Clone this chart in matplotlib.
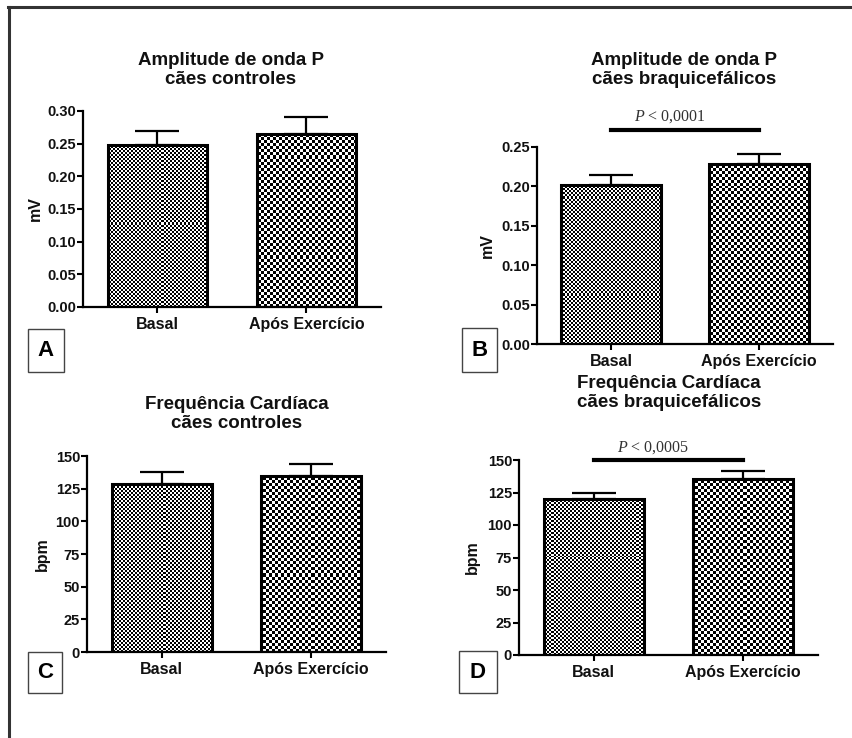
import numpy as np
import matplotlib
matplotlib.use("Agg")
import matplotlib.pyplot as plt
from matplotlib.patches import Rectangle
from matplotlib.lines import Line2D

# ==========================
# DATA
# ==========================

groups = ["Basal", "Após Exercício"]

amp_ctrl_mean = [0.248, 0.265]
amp_ctrl_sem = [0.021, 0.026]

amp_braq_mean = [0.202, 0.228]
amp_braq_sem = [0.012, 0.013]

fc_ctrl_mean = [128.5, 134.5]
fc_ctrl_sem = [9.0, 9.0]

fc_braq_mean = [120.0, 135.5]
fc_braq_sem = [4.5, 6.0]

amp_ticks = [0.00, 0.05, 0.10, 0.15, 0.20, 0.25, 0.30]
fc_ticks = [0, 25, 50, 75, 100, 125, 150]

# ==========================
# STYLE
# ==========================

W, H = 853, 738
plt.rcParams["font.family"] = ["Liberation Sans", "DejaVu Sans"]
plt.rcParams["mathtext.fontset"] = "custom"
plt.rcParams["mathtext.it"] = "Liberation Serif:italic"
plt.rcParams["mathtext.rm"] = "Liberation Serif"

fig = plt.figure(figsize=(W / 100, H / 100), dpi=100)


def px_axes(x0, y0, x1, y1):
    # pixel box (top-left origin) -> figure axes
    return fig.add_axes([x0 / W, 1 - y1 / H, (x1 - x0) / W, (y1 - y0) / H])


def checker_fill(ax, bar, cell):
    w = int(round(ax.bbox.width / cell))
    h = int(round(ax.bbox.height / cell))
    arr = np.indices((h, w)).sum(axis=0) % 2
    im = ax.imshow(arr, cmap="gray", vmin=0, vmax=1, extent=[0, 1, 0, 1],
                   transform=ax.transAxes, interpolation="nearest",
                   aspect="auto", zorder=2)
    im.set_clip_path(bar)


def panel(box, means, sems, ticks, ylabel, ylabel_x):
    ax = px_axes(*box)
    x = np.arange(len(groups))
    bars = ax.bar(x, means, width=0.67, facecolor="none", edgecolor="black",
                  linewidth=2.2, zorder=3)
    for b, cell in zip(bars, [2, 3]):
        checker_fill(ax, b, cell)
    ax.errorbar(x, means, yerr=[np.zeros(len(sems)), sems], fmt="none",
                ecolor="black", elinewidth=1.6, capsize=16, capthick=1.6,
                zorder=4)
    ax.set_xlim(-0.5, 1.5)
    ax.set_ylim(ticks[0], ticks[-1])
    ax.set_yticks(ticks)
    if isinstance(ticks[1], float):
        ax.set_yticklabels([f"{t:.2f}" for t in ticks])
    ax.set_xticks(x)
    ax.set_xticklabels(groups, fontsize=11.5, fontweight="bold", color="#111111")
    ax.tick_params(axis="y", direction="out", length=4, width=1.5,
                   labelsize=10.5, pad=1)
    ax.tick_params(axis="x", direction="out", length=4, width=1.5, pad=3)
    for lab in ax.get_yticklabels():
        lab.set_fontweight("bold")
        lab.set_color("#111111")
    for s in ["top", "right"]:
        ax.spines[s].set_visible(False)
    for s in ["left", "bottom"]:
        ax.spines[s].set_linewidth(1.6)
    cy = (box[1] + box[3]) / 2
    fig.text(ylabel_x / W, 1 - cy / H, ylabel, rotation=90, ha="center",
             va="center", fontsize=11.5, fontweight="bold", color="#111111")
    return ax


def title(cx, cy, text):
    fig.text(cx / W, 1 - cy / H, text, ha="center", va="center",
             fontsize=13.5, fontweight="bold", linespacing=1.22,
             color="#111111")


def letter(x0, y0, x1, y1, s):
    fig.patches.append(Rectangle((x0 / W, 1 - y1 / H), (x1 - x0) / W,
                                 (y1 - y0) / H, transform=fig.transFigure,
                                 facecolor="white", edgecolor="#444444",
                                 linewidth=1.0))
    fig.text((x0 + x1) / 2 / W, 1 - (y0 + y1) / 2 / H, s, ha="center",
             va="center", fontsize=16, fontweight="bold")


def signif(ax, y, text, tx):
    ax.plot([0, 1], [y, y], color="black", linewidth=3, clip_on=False,
            solid_capstyle="projecting", zorder=5)
    ax.annotate(text, xy=(tx, y), xytext=(0, 3), textcoords="offset points",
                ha="center", va="bottom", fontsize=11.5, color="#333333",
                family=["Liberation Serif"], annotation_clip=False)


# ==========================
# PANELS
# ==========================

axA = panel((83, 111, 381, 307), amp_ctrl_mean, amp_ctrl_sem, amp_ticks, "mV", 35)
title(231, 70, "Amplitude de onda P\ncães controles")
letter(28, 329, 64, 372, "A")

axB = panel((537, 147, 833, 344), amp_braq_mean, amp_braq_sem, amp_ticks[:6], "mV", 487)
title(684, 70, "Amplitude de onda P\ncães braquicefálicos")
signif(axB, 0.272, r"$P$ < 0,0001", 0.4)
letter(462, 328, 497, 372, "B")

axC = panel((87, 456, 386, 652), fc_ctrl_mean, fc_ctrl_sem, fc_ticks, "bpm", 42)
title(237, 414, "Frequência Cardíaca\ncães controles")
letter(28, 652, 62, 693, "C")

axD = panel((519, 460, 818, 655), fc_braq_mean, fc_braq_sem, fc_ticks, "bpm", 472)
title(669, 393, "Frequência Cardíaca\ncães braquicefálicos")
signif(axD, 150, r"$P$ < 0,0005", 0.4)
letter(459, 651, 497, 693, "D")

# outer frame (top and left only)
fig.lines.append(Line2D([8 / W, 1], [1 - 7 / H, 1 - 7 / H], transform=fig.transFigure,
                        color="#333333", linewidth=2.2))
fig.lines.append(Line2D([9 / W, 9 / W], [1 - 7 / H, 0], transform=fig.transFigure,
                        color="#333333", linewidth=2.2))

fig.savefig("out.png", dpi=100)
